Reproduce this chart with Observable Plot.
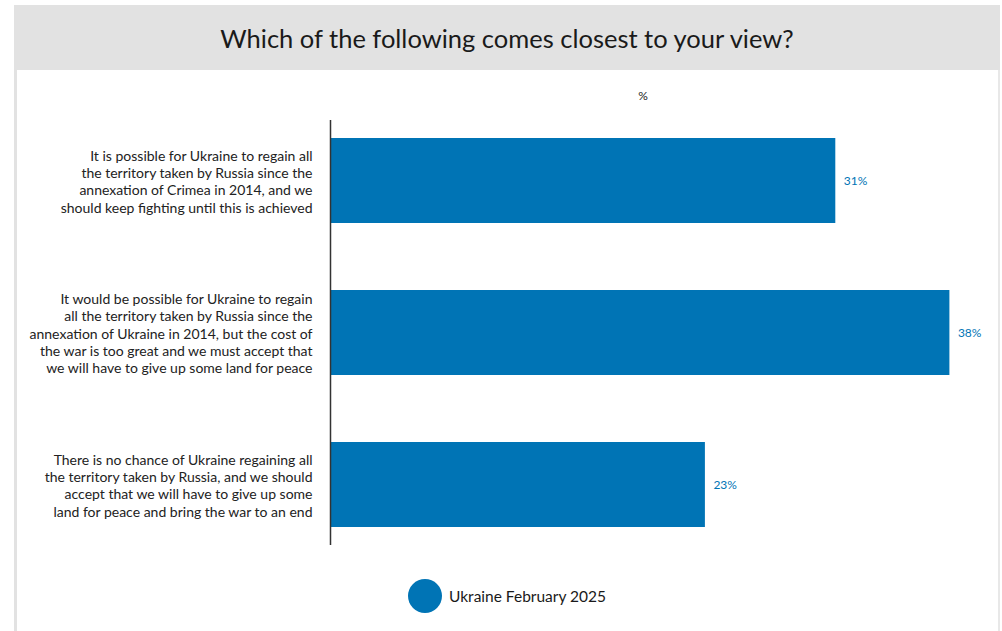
<!DOCTYPE html>
<html>
<head>
<meta charset="utf-8">
<script src="https://cdn.jsdelivr.net/npm/d3@7"></script>
<script src="https://cdn.jsdelivr.net/npm/@observablehq/plot@0.6"></script>
<style>
  html, body { margin: 0; padding: 0; background: #fff; width: 1002px; height: 631px; overflow: hidden; font-family: Lato, "Open Sans", sans-serif; }
  #wrap { position: absolute; left: 14px; top: 5px; width: 986px; height: 626px; }
  #title { position: absolute; left: 0; top: 0; width: 986px; height: 65px; background: #e2e2e2; color: #1a1a1a; font-size: 25.5px; text-align: center; line-height: 66px; }
  #lb { position: absolute; left: 0; top: 65px; width: 3px; height: 561px; background: #e2e2e2; }
  #rb { position: absolute; right: 0; top: 65px; width: 2px; height: 561px; background: #e8e8e8; }
  #chart { position: absolute; left: 0; top: 70px; }
  #pct { position: absolute; left: 633px; top: 88px; width: 20px; text-align: center; font-size: 12px; color: #222; }
  #legend { position: absolute; left: 408px; top: 579px; display: flex; align-items: center; gap: 7px; font-size: 15.5px; color: #1a1a1a; }
  #legend .dot { width: 34px; height: 34px; border-radius: 50%; background: #0074b5; }
</style>
</head>
<body>
<div id="wrap"><div id="title">Which of the following comes closest to your view?</div><div id="lb"></div><div id="rb"></div></div>
<div id="chart"></div>
<div id="pct">%</div>
<div id="legend"><div class="dot"></div><span id="legtext"></span></div>
<script>
const series = "Ukraine February 2025";
const categories = [
  "It is possible for Ukraine to regain all\nthe territory taken by Russia since the\nannexation of Crimea in 2014, and we\nshould keep fighting until this is achieved",
  "It would be possible for Ukraine to regain\nall the territory taken by Russia since the\nannexation of Ukraine in 2014, but the cost of\nthe war is too great and we must accept that\nwe will have to give up some land for peace",
  "There is no chance of Ukraine regaining all\nthe territory taken by Russia, and we should\naccept that we will have to give up some\nland for peace and bring the war to an end"
];
const values = [31, 38, 23];
const barColor = "#0074b5";

const data = categories.map((c, i) => ({category: c, value: values[i]}));
document.getElementById("legtext").textContent = series;

const chart = Plot.plot({
  width: 1002,
  height: 490,
  marginLeft: 330,
  marginRight: 20,
  marginTop: 50,
  marginBottom: 15,
  style: {fontFamily: "Lato, 'Open Sans', sans-serif", background: "transparent"},
  x: {domain: [0, 40], axis: null},
  y: {domain: categories, padding: 0.444, paddingOuter: 0.111, label: null, tickSize: 0, tickPadding: 18},
  marks: [
    Plot.barX(data, {x: "value", y: "category", fill: barColor}),
    Plot.text(data, {x: "value", y: "category", text: d => d.value + "%", textAnchor: "start", dx: 8, fill: barColor, fontSize: 12}),
    Plot.axisY({tickSize: 0, tickPadding: 18, fontSize: 14, lineHeight: 1.24, fill: "#222", textAnchor: "end"}),
    Plot.ruleX([0], {stroke: "#333", strokeWidth: 1.5})
  ]
});
document.getElementById("chart").appendChild(chart);
</script>
</body>
</html>
